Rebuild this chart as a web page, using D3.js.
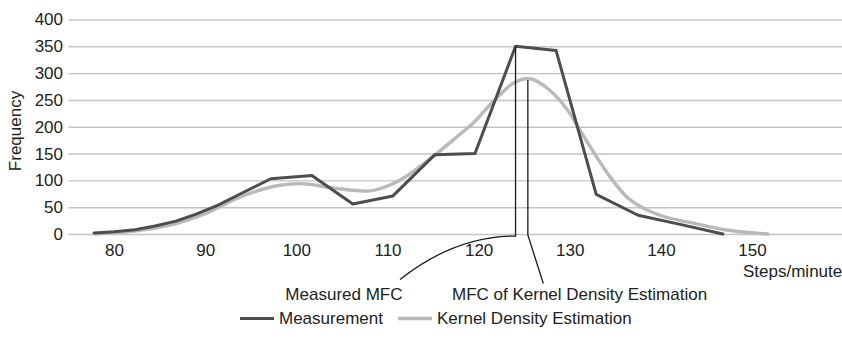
<!DOCTYPE html>
<html>
<head>
<meta charset="utf-8">
<script src="https://cdn.jsdelivr.net/npm/d3@7"></script>
<style>
  html, body { margin: 0; padding: 0; background: #fff; }
  svg { display: block; font-family: "Liberation Sans", Arial, sans-serif; }
</style>
</head>
<body>
<svg id="chart" width="842" height="338"></svg>
<script>
// ---- Data ----
const xTicks = [80, 90, 100, 110, 120, 130, 140, 150];
const yTicks = [0, 50, 100, 150, 200, 250, 300, 350, 400];

// Measurement (steps/minute, frequency)
const measX = [77.8, 80.0, 82.3, 84.5, 86.8, 89.0, 91.3, 94.0, 97.2, 101.7, 106.2, 110.6, 115.2, 119.6, 124.05, 128.5, 132.9, 137.5, 142.1, 146.8];
const measY = [2, 4, 8, 15, 24, 37, 53, 76, 103, 109, 56, 71, 148, 150, 350, 342, 74, 35, 18, 0];

// Kernel Density Estimation
const kdeX = [77.9, 82, 86, 90, 94, 98.2, 100.4, 104.0, 107.7, 111.0, 114.95, 117.6, 119.4, 121.6, 123.8, 125.4, 127.8, 130.0, 131.1, 132.6, 134.4, 136.2, 138.1, 139.9, 143.6, 147.2, 150.9, 151.7];
const kdeY = [0.5, 5, 16, 38, 70, 91, 94, 86, 80, 97, 144, 181, 207, 247, 281, 290, 268, 225, 194, 153, 107, 70, 48, 35, 20, 7.5, 1, 0];

const seriesNames = ["Measurement", "Kernel Density Estimation"];
const yTitle = "Frequency";
const xTitle = "Steps/minute";
const annoMeasured = "Measured MFC";
const annoKde = "MFC of Kernel Density Estimation";

// ---- Layout ----
const W = 842, H = 338;
const FS = 17;
const darkC = "#4d4d4d", lightC = "#b9b9b9", gridC = "#c4c4c4";

const svg = d3.select("#chart");
const x = d3.scaleLinear().domain([75, 160]).range([68.5, 843.2]);
const y = d3.scaleLinear().domain([0, 400]).range([234, 19.5]);

// Y axis with gridlines
const yAxis = svg.append("g")
  .attr("transform", `translate(${x(75)},0)`)
  .call(d3.axisLeft(y).tickValues(yTicks).tickSize(-(W - x(75) + 5)).tickPadding(5.5));
yAxis.select(".domain").remove();
yAxis.selectAll(".tick line").attr("stroke", gridC).attr("stroke-width", 1.4);
yAxis.selectAll(".tick text").attr("font-size", FS).attr("fill", "#222")
  .attr("font-family", "Liberation Sans, Arial, sans-serif");

// X axis labels
const xAxis = svg.append("g")
  .attr("transform", `translate(0,${y(0)})`)
  .call(d3.axisBottom(x).tickValues(xTicks).tickSize(0).tickPadding(10.4));
xAxis.select(".domain").remove();
xAxis.selectAll(".tick text").attr("font-size", FS).attr("fill", "#222")
  .attr("font-family", "Liberation Sans, Arial, sans-serif");

// Lines
const meas = measX.map((v, i) => [v, measY[i]]);
const kde = kdeX.map((v, i) => [v, kdeY[i]]);

svg.append("path")
  .datum(kde)
  .attr("fill", "none").attr("stroke", lightC).attr("stroke-width", 3.4)
  .attr("stroke-linejoin", "round").attr("stroke-linecap", "round")
  .attr("d", d3.line().x(d => x(d[0])).y(d => y(d[1])).curve(d3.curveMonotoneX));

svg.append("path")
  .datum(meas)
  .attr("fill", "none").attr("stroke", darkC).attr("stroke-width", 3)
  .attr("stroke-linejoin", "round").attr("stroke-linecap", "round")
  .attr("d", d3.line().x(d => x(d[0])).y(d => y(d[1])));

// Annotations
const mi = measY.indexOf(d3.max(measY));
const ki = kdeY.indexOf(d3.max(kdeY));
const mx = x(measX[mi]), my = y(measY[mi]);
const kx = x(kdeX[ki]), ky = y(kdeY[ki]);

svg.append("path")
  .attr("fill", "none").attr("stroke", "#1a1a1a").attr("stroke-width", 1.3)
  .attr("d", `M${mx},${my} V236 Q455,236 400,279.5`);
svg.append("path")
  .attr("fill", "none").attr("stroke", "#1a1a1a").attr("stroke-width", 1.3)
  .attr("d", `M${kx},${ky + 1.5} V235 L543.3,283.5`);

const txt = (s, tx, ty, anchor) => svg.append("text")
  .attr("x", tx).attr("y", ty).attr("font-size", FS).attr("fill", "#222")
  .attr("text-anchor", anchor || "start").text(s);

txt(annoMeasured, 402.5, 300, "end");
txt(annoKde, 452, 300);
txt(xTitle, 743, 277.3);

// Y title
svg.append("text")
  .attr("transform", `translate(21,131) rotate(-90)`)
  .attr("text-anchor", "middle").attr("font-size", FS).attr("fill", "#222")
  .text(yTitle);

// Legend
const leg = svg.append("g");
const legItems = [
  { name: seriesNames[0], color: darkC, w: 3, x0: 240 },
  { name: seriesNames[1], color: lightC, w: 3.4, x0: 398 }
];
legItems.forEach(it => {
  leg.append("line").attr("x1", it.x0).attr("x2", it.x0 + 34)
    .attr("y1", 318.5).attr("y2", 318.5)
    .attr("stroke", it.color).attr("stroke-width", it.w);
  leg.append("text").attr("x", it.x0 + 39).attr("y", 324.3)
    .attr("font-size", FS).attr("fill", "#222").text(it.name);
});
</script>
</body>
</html>
